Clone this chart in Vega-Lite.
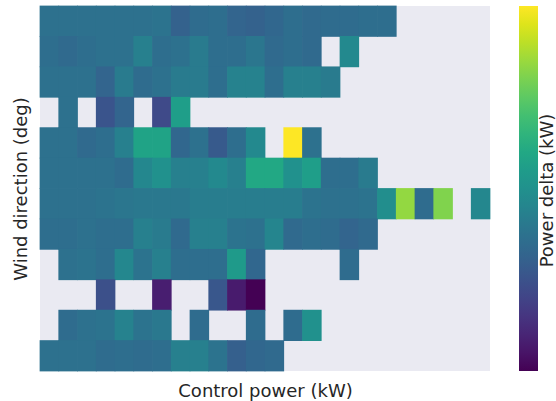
{
  "$schema": "https://vega.github.io/schema/vega-lite/v6.json",
  "width": 450,
  "height": 365,
  "autosize": {"type": "none"},
  "padding": {"left": 40, "top": 6, "right": 66, "bottom": 30},
  "background": "white",
  "config": {
    "view": {"fill": "#EAEAF2", "stroke": null},
    "font": "DejaVu Sans",
    "axis": {"labels": false, "ticks": false, "domain": false, "grid": false, "titleFontSize": 18, "titleFontWeight": "normal", "titleColor": "#262626", "titleFont": "DejaVu Sans"},
    "legend": {"titleFontSize": 17, "titleFontWeight": "normal", "titleColor": "#262626", "titleFont": "DejaVu Sans"}
  },
  "data": {"values": [
    {"p":0,"d":0,"v":0.37},{"p":1,"d":0,"v":0.37},{"p":2,"d":0,"v":0.37},{"p":3,"d":0,"v":0.37},{"p":4,"d":0,"v":0.37},{"p":5,"d":0,"v":0.37},{"p":6,"d":0,"v":0.38},{"p":7,"d":0,"v":0.31},{"p":8,"d":0,"v":0.35},{"p":9,"d":0,"v":0.36},{"p":10,"d":0,"v":0.32},{"p":11,"d":0,"v":0.31},{"p":12,"d":0,"v":0.33},{"p":13,"d":0,"v":0.36},{"p":14,"d":0,"v":0.34},{"p":15,"d":0,"v":0.35},{"p":16,"d":0,"v":0.35},{"p":17,"d":0,"v":0.36},{"p":18,"d":0,"v":0.36},
    {"p":0,"d":1,"v":0.36},{"p":1,"d":1,"v":0.34},{"p":2,"d":1,"v":0.36},{"p":3,"d":1,"v":0.37},{"p":4,"d":1,"v":0.37},{"p":5,"d":1,"v":0.43},{"p":6,"d":1,"v":0.36},{"p":7,"d":1,"v":0.37},{"p":8,"d":1,"v":0.41},{"p":9,"d":1,"v":0.36},{"p":10,"d":1,"v":0.36},{"p":11,"d":1,"v":0.39},{"p":12,"d":1,"v":0.34},{"p":13,"d":1,"v":0.36},{"p":14,"d":1,"v":0.34},{"p":16,"d":1,"v":0.47},
    {"p":0,"d":2,"v":0.37},{"p":1,"d":2,"v":0.37},{"p":2,"d":2,"v":0.37},{"p":3,"d":2,"v":0.32},{"p":4,"d":2,"v":0.41},{"p":5,"d":2,"v":0.35},{"p":6,"d":2,"v":0.37},{"p":7,"d":2,"v":0.41},{"p":8,"d":2,"v":0.41},{"p":9,"d":2,"v":0.36},{"p":10,"d":2,"v":0.44},{"p":11,"d":2,"v":0.44},{"p":12,"d":2,"v":0.36},{"p":13,"d":2,"v":0.43},{"p":14,"d":2,"v":0.43},{"p":15,"d":2,"v":0.41},
    {"p":1,"d":3,"v":0.37},{"p":3,"d":3,"v":0.26},{"p":4,"d":3,"v":0.32},{"p":6,"d":3,"v":0.22},{"p":7,"d":3,"v":0.56},
    {"p":0,"d":4,"v":0.37},{"p":1,"d":4,"v":0.37},{"p":2,"d":4,"v":0.34},{"p":3,"d":4,"v":0.36},{"p":4,"d":4,"v":0.43},{"p":5,"d":4,"v":0.58},{"p":6,"d":4,"v":0.58},{"p":7,"d":4,"v":0.33},{"p":8,"d":4,"v":0.37},{"p":9,"d":4,"v":0.28},{"p":10,"d":4,"v":0.36},{"p":11,"d":4,"v":0.47},{"p":13,"d":4,"v":1.0},{"p":14,"d":4,"v":0.37},
    {"p":0,"d":5,"v":0.37},{"p":1,"d":5,"v":0.37},{"p":2,"d":5,"v":0.37},{"p":3,"d":5,"v":0.37},{"p":4,"d":5,"v":0.35},{"p":5,"d":5,"v":0.46},{"p":6,"d":5,"v":0.5},{"p":7,"d":5,"v":0.43},{"p":8,"d":5,"v":0.43},{"p":9,"d":5,"v":0.47},{"p":10,"d":5,"v":0.43},{"p":11,"d":5,"v":0.6},{"p":12,"d":5,"v":0.6},{"p":13,"d":5,"v":0.5},{"p":14,"d":5,"v":0.56},{"p":15,"d":5,"v":0.36},{"p":16,"d":5,"v":0.36},{"p":17,"d":5,"v":0.41},
    {"p":0,"d":6,"v":0.37},{"p":1,"d":6,"v":0.37},{"p":2,"d":6,"v":0.37},{"p":3,"d":6,"v":0.38},{"p":4,"d":6,"v":0.39},{"p":5,"d":6,"v":0.4},{"p":6,"d":6,"v":0.4},{"p":7,"d":6,"v":0.4},{"p":8,"d":6,"v":0.42},{"p":9,"d":6,"v":0.42},{"p":10,"d":6,"v":0.42},{"p":11,"d":6,"v":0.42},{"p":12,"d":6,"v":0.42},{"p":13,"d":6,"v":0.42},{"p":14,"d":6,"v":0.38},{"p":15,"d":6,"v":0.37},{"p":16,"d":6,"v":0.37},{"p":17,"d":6,"v":0.38},{"p":18,"d":6,"v":0.49},{"p":19,"d":6,"v":0.84},{"p":20,"d":6,"v":0.35},{"p":21,"d":6,"v":0.81},{"p":23,"d":6,"v":0.46},
    {"p":0,"d":7,"v":0.36},{"p":1,"d":7,"v":0.36},{"p":2,"d":7,"v":0.37},{"p":3,"d":7,"v":0.36},{"p":4,"d":7,"v":0.36},{"p":5,"d":7,"v":0.43},{"p":6,"d":7,"v":0.41},{"p":7,"d":7,"v":0.34},{"p":8,"d":7,"v":0.43},{"p":9,"d":7,"v":0.43},{"p":10,"d":7,"v":0.38},{"p":11,"d":7,"v":0.37},{"p":12,"d":7,"v":0.45},{"p":13,"d":7,"v":0.34},{"p":14,"d":7,"v":0.36},{"p":15,"d":7,"v":0.35},{"p":16,"d":7,"v":0.32},{"p":17,"d":7,"v":0.34},
    {"p":1,"d":8,"v":0.37},{"p":2,"d":8,"v":0.38},{"p":3,"d":8,"v":0.36},{"p":4,"d":8,"v":0.46},{"p":5,"d":8,"v":0.38},{"p":6,"d":8,"v":0.43},{"p":7,"d":8,"v":0.36},{"p":8,"d":8,"v":0.36},{"p":9,"d":8,"v":0.36},{"p":10,"d":8,"v":0.54},{"p":11,"d":8,"v":0.33},{"p":16,"d":8,"v":0.35},
    {"p":3,"d":9,"v":0.24},{"p":6,"d":9,"v":0.08},{"p":9,"d":9,"v":0.27},{"p":10,"d":9,"v":0.07},{"p":11,"d":9,"v":0.0},
    {"p":1,"d":10,"v":0.35},{"p":2,"d":10,"v":0.37},{"p":3,"d":10,"v":0.38},{"p":4,"d":10,"v":0.44},{"p":5,"d":10,"v":0.38},{"p":6,"d":10,"v":0.4},{"p":8,"d":10,"v":0.35},{"p":11,"d":10,"v":0.35},{"p":13,"d":10,"v":0.35},{"p":14,"d":10,"v":0.5},
    {"p":0,"d":11,"v":0.37},{"p":1,"d":11,"v":0.37},{"p":2,"d":11,"v":0.37},{"p":3,"d":11,"v":0.35},{"p":4,"d":11,"v":0.36},{"p":5,"d":11,"v":0.35},{"p":6,"d":11,"v":0.36},{"p":7,"d":11,"v":0.43},{"p":8,"d":11,"v":0.43},{"p":9,"d":11,"v":0.38},{"p":10,"d":11,"v":0.3},{"p":11,"d":11,"v":0.33},{"p":12,"d":11,"v":0.34}
  ]},
  "layer": [
    {
      "mark": {"type": "rect", "strokeWidth": 0, "width": 19.5, "height": 31.2},
      "encoding": {
        "x": {"field": "p", "type": "ordinal", "title": "Control power (kW)",
          "scale": {"domain": [0,1,2,3,4,5,6,7,8,9,10,11,12,13,14,15,16,17,18,19,20,21,22,23], "paddingInner": 0, "paddingOuter": 0},
          "axis": {"titlePadding": 11}},
        "y": {"field": "d", "type": "ordinal", "title": "Wind direction (deg)",
          "scale": {"domain": [0,1,2,3,4,5,6,7,8,9,10,11], "paddingInner": 0, "paddingOuter": 0},
          "axis": {"titlePadding": 10}},
        "color": {"field": "v", "type": "quantitative", "title": null,
          "scale": {"scheme": "viridis", "domain": [0, 1]},
          "legend": {"type": "gradient", "orient": "none", "legendX": 479, "legendY": 0, "padding": 0, "gradientLength": 365, "gradientThickness": 19, "gradientStrokeWidth": 0, "labelExpr": "''", "labelOffset": 0, "labelPadding": 0}}
      }
    },
    {
      "mark": {"type": "rect", "opacity": 0},
      "encoding": {
        "y": {"field": "d", "type": "ordinal", "title": "Power delta (kW)",
          "axis": {"orient": "right", "titleAngle": -90, "titleX": 57, "titleY": 184, "titleAlign": "center", "titleBaseline": "middle", "titleFontSize": 18}}
      }
    }
  ],
  "resolve": {"axis": {"y": "independent"}}
}
